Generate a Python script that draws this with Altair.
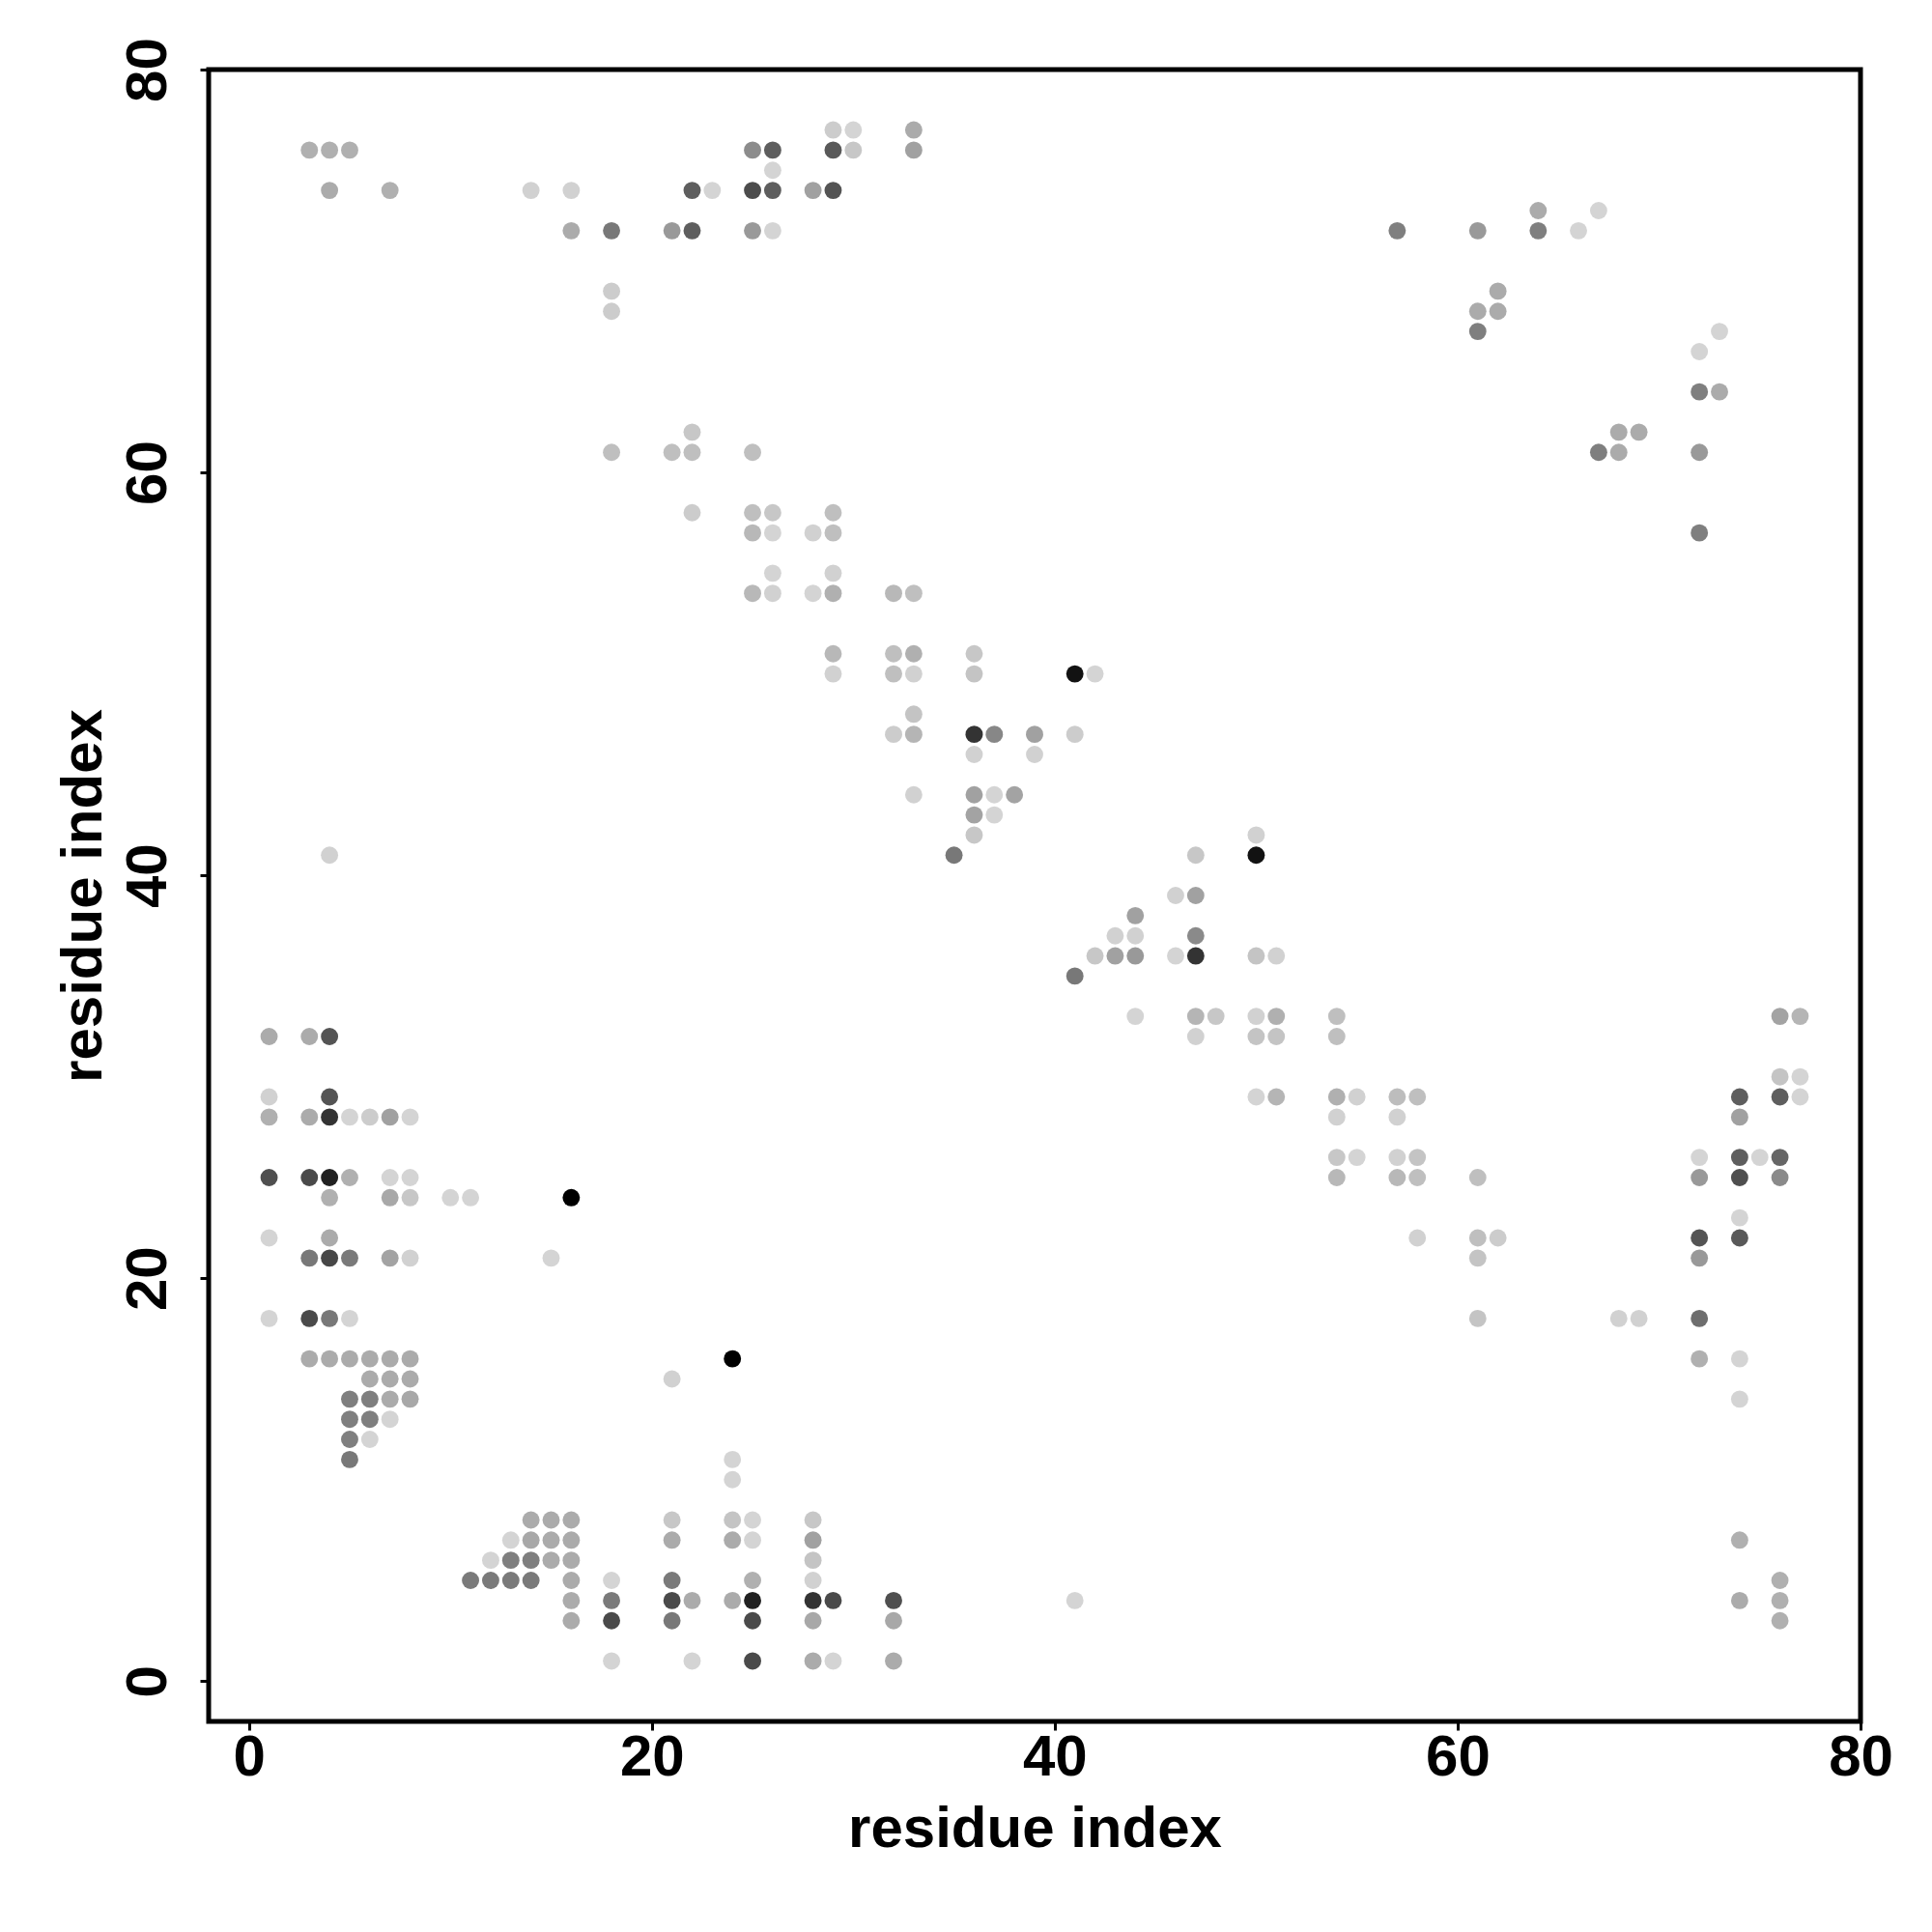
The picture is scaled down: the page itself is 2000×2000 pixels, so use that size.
import altair as alt
import pandas as pd

# Contact map: residue index pairs (rows of constant j) and contact strength
row_j = [77, 76, 75, 74, 73, 72, 69, 68, 67, 66, 64, 62, 61, 58, 57, 55, 54,
         51, 50, 48, 47, 46, 44, 43, 42, 41, 39, 38, 37, 36, 35, 33, 32, 30,
         29, 28, 26, 25, 24, 23, 22, 21, 18, 16, 15, 14, 13, 12, 11, 10, 8,
         7, 6, 5, 4, 3, 1]

row_i = [
    [29, 30, 33],
    [3, 4, 5, 25, 26, 29, 30, 33],
    [26],
    [4, 7, 14, 16, 22, 23, 25, 26, 28, 29],
    [64, 67],
    [16, 18, 21, 22, 25, 26, 57, 61, 64, 66],
    [18, 62],
    [18, 61, 62],
    [61, 73],
    [72],
    [72, 73],
    [22, 68, 69],
    [18, 21, 22, 25, 67, 68, 72],
    [22, 25, 26, 29],
    [25, 26, 28, 29, 72],
    [26, 29],
    [25, 26, 28, 29, 32, 33],
    [29, 32, 33, 36],
    [29, 32, 33, 36, 41, 42],
    [33],
    [32, 33, 36, 37, 39, 41],
    [36, 39],
    [33, 36, 37, 38],
    [36, 37],
    [36, 50],
    [4, 35, 47, 50],
    [46, 47],
    [44],
    [43, 44, 47],
    [42, 43, 44, 46, 47, 50, 51],
    [41],
    [44, 47, 48, 50, 51, 54, 76, 77],
    [1, 3, 4, 47, 50, 51, 54],
    [76, 77],
    [1, 4, 50, 51, 54, 55, 57, 58, 74, 76, 77],
    [1, 3, 4, 5, 6, 7, 8, 54, 57, 74],
    [54, 55, 57, 58, 72, 74, 75, 76],
    [1, 3, 4, 5, 7, 8, 54, 57, 58, 61, 72, 74, 76],
    [4, 7, 8, 10, 11, 16],
    [74],
    [1, 4, 58, 61, 62, 72, 74],
    [3, 4, 5, 7, 8, 15, 61, 72],
    [1, 3, 4, 5, 61, 68, 69, 72],
    [3, 4, 5, 6, 7, 8, 24, 72, 74],
    [6, 7, 8, 21],
    [5, 6, 7, 8, 74],
    [5, 6, 7],
    [5, 6],
    [5, 24],
    [24],
    [14, 15, 16, 21, 24, 25, 28],
    [13, 14, 15, 16, 21, 24, 25, 28, 74],
    [12, 13, 14, 15, 16, 28],
    [11, 12, 13, 14, 16, 18, 21, 25, 28, 76],
    [16, 18, 21, 22, 24, 25, 28, 29, 32, 41, 74, 76],
    [16, 18, 21, 25, 28, 32, 76],
    [18, 22, 25, 28, 29, 32],
]

row_p = [
    [.20, .17, .33],
    [.31, .31, .31, .45, .63, .65, .22, .37],
    [.17],
    [.33, .31, .18, .18, .63, .17, .70, .63, .37, .67],
    [.33, .17],
    [.33, .53, .40, .63, .40, .17, .50, .40, .50, .17],
    [.20, .33],
    [.20, .33, .33],
    [.50, .17],
    [.17],
    [.50, .33],
    [.22, .33, .33],
    [.25, .25, .25, .25, .50, .33, .40],
    [.20, .25, .22, .25],
    [.28, .17, .18, .25, .50],
    [.17, .18],
    [.28, .18, .17, .31, .28, .25],
    [.28, .25, .31, .22],
    [.18, .25, .18, .23, .93, .17],
    [.23],
    [.20, .29, .80, .47, .37, .20],
    [.18, .18],
    [.18, .37, .17, .36],
    [.36, .17],
    [.22, .18],
    [.18, .53, .22, .93],
    [.18, .37],
    [.37],
    [.18, .18, .46],
    [.22, .37, .40, .17, .80, .23, .18],
    [.53],
    [.17, .29, .22, .18, .31, .25, .36, .29],
    [.33, .33, .67, .18, .23, .23, .25],
    [.23, .17],
    [.18, .67, .17, .29, .31, .18, .26, .25, .63, .63, .17],
    [.31, .33, .80, .17, .20, .37, .17, .18, .18, .37],
    [.22, .17, .18, .23, .17, .63, .17, .60],
    [.69, .71, .87, .31, .17, .17, .28, .28, .25, .25, .40, .69, .46],
    [.31, .34, .22, .17, .17, 1.0],
    [.17],
    [.17, .33, .18, .25, .20, .67, .65],
    [.53, .72, .52, .36, .18, .17, .23, .40],
    [.17, .71, .53, .17, .23, .18, .18, .57],
    [.33, .33, .33, .33, .33, .33, 1.0, .31, .17],
    [.33, .33, .33, .18],
    [.50, .50, .33, .34, .17],
    [.50, .50, .17],
    [.50, .17],
    [.53, .17],
    [.17],
    [.33, .33, .33, .22, .23, .17, .22],
    [.17, .34, .33, .33, .33, .33, .17, .37, .31],
    [.17, .50, .50, .33, .33, .23],
    [.52, .52, .52, .52, .33, .17, .52, .31, .18, .31],
    [.33, .52, .71, .33, .33, .87, .80, .71, .69, .17, .33, .31],
    [.33, .71, .53, .71, .34, .34, .31],
    [.17, .17, .71, .33, .17, .33],
]

tick_values = [0, 20, 40, 60, 80]
axis_title = "residue index"

recs = []
for j, xs, ps in zip(row_j, row_i, row_p):
    for i, p in zip(xs, ps):
        recs.append({"i": i, "j": j, "p": p})
df = pd.DataFrame(recs)

FONT = "Liberation Sans"
W = 1710

common_axis = dict(
    values=tick_values,
    domain=False,
    grid=False,
    ticks=True,
    tickSize=9,
    tickWidth=3,
    tickColor="black",
    labelFont=FONT,
    labelFontSize=60,
    labelFontWeight="bold",
    labelColor="black",
    labelFlush=False,
    labelOverlap=False,
    labelBaseline="alphabetic",
    title=axis_title,
    titleFont=FONT,
    titleFontSize=60,
    titleFontWeight="bold",
    titleColor="black",
    titleBaseline="alphabetic",
    titleAlign="center",
)

x_axis = alt.Axis(
    labelPadding=46,
    titleX=W / 2,
    titleY=129,
    titleAngle=0,
    **common_axis,
)
y_axis = alt.Axis(
    labelAngle=270,
    labelAlign="center",
    labelPadding=36,
    titleX=-112,
    titleY=W / 2,
    titleAngle=270,
    **common_axis,
)

chart = (
    alt.Chart(df)
    .mark_circle(size=320, color="black")
    .encode(
        x=alt.X("i:Q", scale=alt.Scale(domain=[-2, 80], nice=False, zero=False), axis=x_axis),
        y=alt.Y("j:Q", scale=alt.Scale(domain=[-2, 80], nice=False, zero=False), axis=y_axis),
        opacity=alt.Opacity("p:Q", scale=alt.Scale(domain=[0, 1], range=[0, 1]), legend=None),
    )
    .properties(
        width=W,
        height=W,
        autosize=alt.AutoSizeParams(type="none"),
        padding={"left": 208, "top": 64, "right": 60, "bottom": 200},
        background="white",
    )
    .configure_view(stroke="black", strokeWidth=5, fill="white")
)

chart.save("out.html", embed_options={"renderer": "svg", "actions": False})
